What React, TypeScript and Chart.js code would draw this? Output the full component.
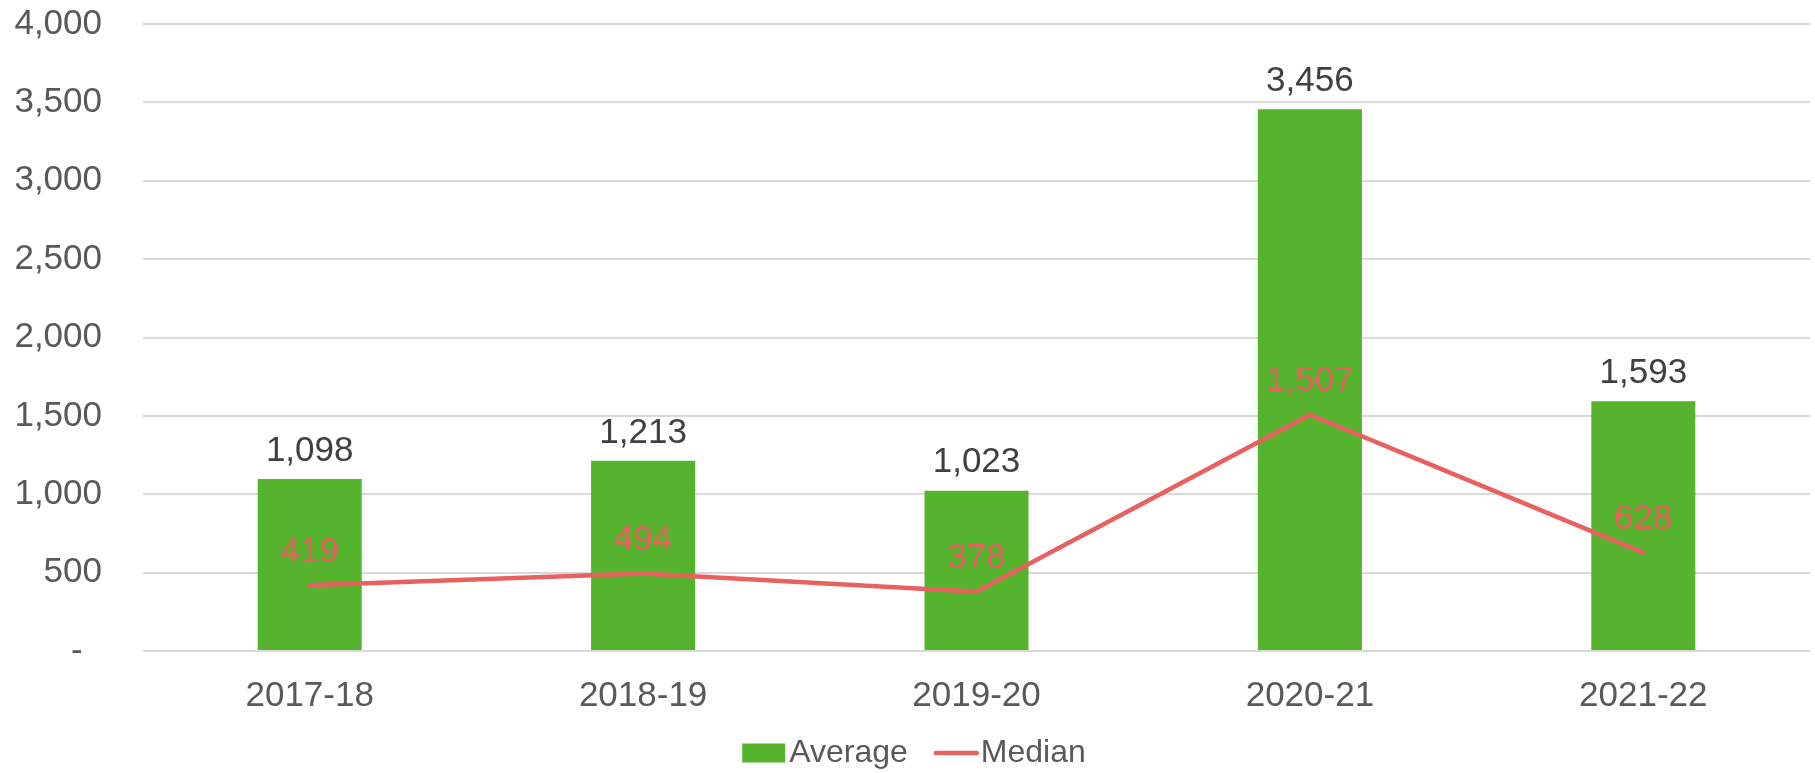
import React, { useEffect, useRef } from "react";
import { Chart, registerables } from "chart.js";

Chart.register(...registerables);

const categories = ["2017-18", "2018-19", "2019-20", "2020-21", "2021-22"];
const averageValues = [1098, 1213, 1023, 3456, 1593];
const medianValues = [419, 494, 378, 1507, 628];
const seriesNames = ["Average", "Median"];

const GREEN = "#55B32E";
const RED = "#E8605F";
const FONT = "'Liberation Sans', Arial, sans-serif";
const FS = 35;
const LEGEND_FS = 32;

const fmt = (v: number) => v.toLocaleString("en-US");

const labelPlugin = {
  id: "valueLabels",
  afterDatasetsDraw(chart: any) {
    const ctx = chart.ctx;
    ctx.save();
    ctx.font = `${FS}px ${FONT}`;
    ctx.textAlign = "center";
    ctx.textBaseline = "middle";
    chart.data.datasets.forEach((ds: any, i: number) => {
      const meta = chart.getDatasetMeta(i);
      meta.data.forEach((el: any, j: number) => {
        const v = ds.data[j];
        if (ds.type === "bar") {
          ctx.fillStyle = "#404040";
          ctx.fillText(fmt(v), el.x, el.y - 28);
        } else {
          ctx.fillStyle = RED;
          ctx.fillText(fmt(v), el.x, el.y - 33);
        }
      });
    });
    ctx.restore();
  },
};

const legendPlugin = {
  id: "customLegend",
  afterDraw(chart: any) {
    const ctx = chart.ctx;
    ctx.save();
    ctx.font = `${LEGEND_FS}px ${FONT}`;
    ctx.textBaseline = "middle";
    ctx.textAlign = "left";
    const cy = 753;
    const sw = 43;
    const gap = 4;
    const itemGap = 26;
    const w0 = ctx.measureText(seriesNames[0]).width;
    const w1 = ctx.measureText(seriesNames[1]).width;
    const total = sw + gap + w0 + itemGap + sw + gap + w1;
    let x = 914 - total / 2;
    ctx.fillStyle = GREEN;
    ctx.fillRect(x, cy - 9.5, sw, 19);
    x += sw + gap;
    ctx.fillStyle = "#595959";
    ctx.fillText(seriesNames[0], x, cy);
    x += w0 + itemGap;
    ctx.strokeStyle = RED;
    ctx.lineWidth = 4.5;
    ctx.lineCap = "round";
    ctx.beginPath();
    ctx.moveTo(x + 2, cy);
    ctx.lineTo(x + sw, cy);
    ctx.stroke();
    x += sw + gap;
    ctx.fillStyle = "#595959";
    ctx.fillText(seriesNames[1], x, cy);
    ctx.restore();
  },
};

export default function App() {
  const ref = useRef<HTMLCanvasElement | null>(null);
  useEffect(() => {
    document.body.style.margin = "0";
    const canvas = ref.current!;
    const chart = new Chart(canvas, {
      type: "bar",
      data: {
        labels: categories,
        datasets: [
          {
            type: "line",
            label: seriesNames[1],
            data: medianValues,
            borderColor: RED,
            backgroundColor: RED,
            borderWidth: 4.5,
            pointRadius: 0,
            tension: 0,
            borderCapStyle: "round",
            borderJoinStyle: "miter",
            order: 0,
          } as any,
          {
            type: "bar",
            label: seriesNames[0],
            data: averageValues,
            backgroundColor: GREEN,
            barPercentage: 0.312,
            categoryPercentage: 1,
            order: 1,
          } as any,
        ],
      },
      options: {
        responsive: false,
        animation: false,
        layout: { padding: { top: 24, right: 5, left: 0, bottom: 62 } },
        plugins: {
          legend: { display: false },
          tooltip: { enabled: false },
        },
        scales: {
          x: {
            grid: { display: false },
            border: { display: false },
            ticks: {
              color: "#595959",
              font: { size: FS, family: FONT },
              padding: 16,
              maxRotation: 0,
            },
            afterFit: (s: any) => {
              s.height = 60;
              s.paddingLeft = 0;
              s.paddingRight = 0;
            },
          },
          y: {
            min: 0,
            max: 4000,
            grid: { color: "#D9D9D9", lineWidth: 2, drawTicks: false },
            border: { display: false },
            ticks: {
              stepSize: 500,
              color: "#595959",
              font: { size: FS, family: FONT },
              padding: 41,
              callback: (v: any) => (Number(v) === 0 ? "-  " : fmt(Number(v))),
            },
            afterFit: (s: any) => {
              s.width = 143;
              s.paddingTop = 0;
              s.paddingBottom = 0;
            },
          },
        },
      },
      plugins: [labelPlugin, legendPlugin],
    });
    return () => chart.destroy();
  }, []);
  return <canvas ref={ref} width={1815} height={773} style={{ display: "block" }} />;
}
